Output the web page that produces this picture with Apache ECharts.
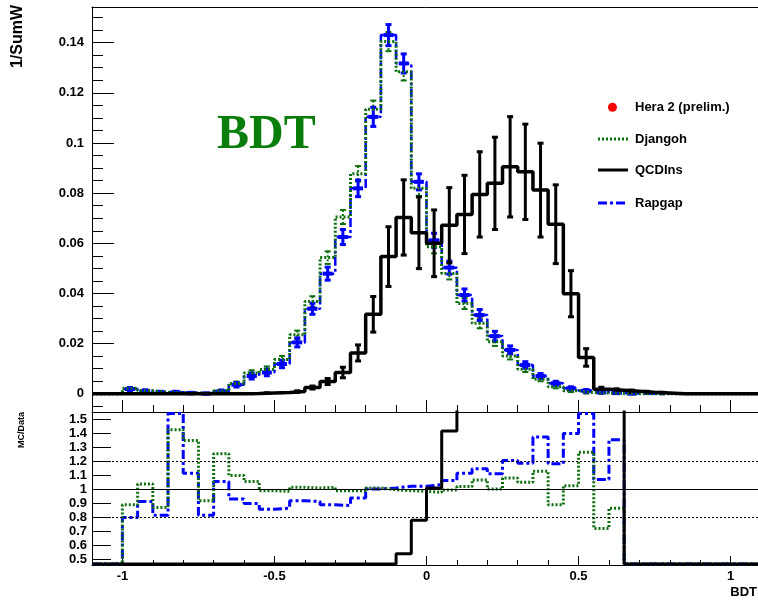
<!DOCTYPE html>
<html><head><meta charset="utf-8">
<script src="https://cdn.jsdelivr.net/npm/echarts@6/dist/echarts.min.js"></script>
<style>html,body{margin:0;padding:0;background:#fff;overflow:hidden}#c{width:758px;height:601px}</style>
</head><body><div id="c"></div>
<script>
// ---------------- data ----------------
const binEdges = [-1.10,-1.05,-1.00,-0.95,-0.90,-0.85,-0.80,-0.75,-0.70,-0.65,-0.60,-0.55,-0.50,-0.45,-0.40,-0.35,-0.30,-0.25,-0.20,-0.15,-0.10,-0.05,0.00,0.05,0.10,0.15,0.20,0.25,0.30,0.35,0.40,0.45,0.50,0.55,0.60,0.65,0.70,0.75,0.80,0.85,0.90,0.95,1.00,1.05,1.10];

const djangoh = [0,0,0.0022,0.0012,0.0006,0.0004,0.0003,0.0002,0.0012,0.0041,0.0083,0.0097,0.0137,0.0235,0.0368,0.0543,0.0705,0.0877,0.1134,0.1404,0.1284,0.0819,0.0586,0.0480,0.0360,0.0281,0.0208,0.0151,0.0098,0.0058,0.0028,0.0012,0.0005,0.0003,0.0001,0,0,0,0,0,0,0,0,0];
const djangohErr = [0,0,0.0005,0.0004,0.0003,0.0003,0.0002,0.0002,0.0004,0.0008,0.0011,0.0012,0.0014,0.0017,0.0021,0.0025,0.0028,0.0031,0.0035,0.0038,0.0035,0.0030,0.0026,0.0024,0.0022,0.0020,0.0017,0.0014,0.0011,0.0008,0.0006,0.0005,0.0004,0.0002,0.0001,0,0,0,0,0,0,0,0,0];

const rapgap = [0,0,0.0019,0.0011,0.0006,0.0006,0.0003,0.0001,0.0010,0.0036,0.0071,0.0085,0.0119,0.0205,0.0339,0.0479,0.0625,0.0819,0.1104,0.1430,0.1317,0.0845,0.0612,0.0503,0.0394,0.0314,0.0230,0.0175,0.0115,0.0071,0.0042,0.0022,0.0012,0.0006,0.0003,0.0001,0,0,0,0,0,0,0,0];
const rapgapErr = [0,0,0.0006,0.0005,0.0004,0.0004,0.0003,0.0002,0.0005,0.0009,0.0012,0.0013,0.0015,0.0018,0.0022,0.0026,0.0030,0.0033,0.0038,0.0042,0.0038,0.0032,0.0028,0.0026,0.0024,0.0022,0.0019,0.0016,0.0013,0.0010,0.0008,0.0006,0.0005,0.0003,0.0002,0.0001,0,0,0,0,0,0,0,0];

const qcdins = [0,0,0,0,0,0,0,0,0,0,0.0001,0.0003,0.0005,0.0009,0.0025,0.0049,0.0085,0.0163,0.0317,0.0547,0.0703,0.0642,0.0600,0.0672,0.0715,0.0795,0.0839,0.0905,0.0885,0.0812,0.0676,0.0399,0.0145,0.0018,0.0014,0.0010,0.0006,0.0003,0,0,0,0,0,0];
const qcdinsErr = [0,0,0,0,0,0,0,0,0,0,0,0,0,0.0003,0.0006,0.0012,0.0021,0.0032,0.0071,0.0119,0.0150,0.0143,0.0133,0.0150,0.0156,0.0170,0.0184,0.0200,0.0190,0.0187,0.0157,0.0092,0.0035,0.0008,0.0006,0.0005,0.0004,0.0003,0,0,0,0,0,0];

// MC / Data ratios
const djangohRatio = [0,0,0.887,1.036,0.868,1.424,1.347,0.916,1.252,1.096,1.053,0.988,0.983,1.012,1.007,1.012,0.988,0.988,1.007,0.993,0.988,0.983,0.976,0.993,1.017,1.065,1.000,1.079,1.048,1.127,0.887,1.024,1.263,0.717,0.863,0,0,0,0,0,0,0,0,0];
const rapgapRatio = [0,0,0.796,0.911,0.813,1.540,1.112,0.813,1.053,0.928,0.896,0.856,0.863,0.916,0.911,0.887,0.882,0.935,1.000,1.007,1.020,1.020,1.031,1.060,1.112,1.144,1.108,1.204,1.184,1.371,1.180,1.396,1.540,1.067,1.352,0,0,0,0,0,0,0,0,0];
const qcdinsRatio = [0,0,0,0,0,0,0,0,0,0,0.01,0.03,0.04,0.04,0.07,0.09,0.12,0.18,0.28,0.39,0.537,0.777,1.007,1.414,2.0,2.8,4.0,6.0,9.0,14,24,30,29,6,14,0,0,0,0,0,0,0,0,0];

const ratioRefLines = [0.8, 1.0, 1.2];

const topYTicks = [0,0.02,0.04,0.06,0.08,0.1,0.12,0.14];
const topYMinor = [-0.005,0.005,0.01,0.015,0.025,0.03,0.035,0.045,0.05,0.055,0.065,0.07,0.075,0.085,0.09,0.095,0.105,0.11,0.115,0.125,0.13,0.135,0.145,0.15];
const ratioYTicks = [0.5,0.6,0.7,0.8,0.9,1.0,1.1,1.2,1.3,1.4,1.5];
const xMajorTicks = [-1,-0.5,0,0.5,1];
const xMinorTicks = [-1,-0.9,-0.8,-0.7,-0.6,-0.5,-0.4,-0.3,-0.2,-0.1,0,0.1,0.2,0.3,0.4,0.5,0.6,0.7,0.8,0.9,1];

// ---------------- styles ----------------
const GREEN = '#0d6e0d', BLUE = '#0000ff', BLACK = '#000000';
const FONT = '"Liberation Sans", Arial, sans-serif';
const X_MIN = -1.1, X_MAX = 1.1;
const TOP_MIN = -0.00725, TOP_MAX = 0.1542;
const R_MIN = 0.457, R_MAX = 1.55;

function stepData(vals) {
  const d = vals.map((v, i) => [binEdges[i], v]);
  d.push([binEdges[vals.length], vals[vals.length - 1]]);
  return d;
}
function ratioStep(vals) {
  const lo = R_MIN + 0.007;
  return stepData(vals.map(v => Math.max(v, lo)));
}
function errData(vals, errs) {
  const out = [];
  vals.forEach((v, i) => { if (v > 0) out.push([(binEdges[i] + binEdges[i + 1]) / 2, v, errs[i]]); });
  return out;
}
function errRender(color, lw, capHalf, dash, barHalf) {
  return function (params, api) {
    const x = api.value(0), y = api.value(1), e = api.value(2);
    const c = api.coord([x, y]);
    const t = api.coord([x, y + e]);
    const b = api.coord([x, y - e]);
    const ch = [
      {type: 'line', shape: {x1: c[0], y1: t[1], x2: c[0], y2: b[1]}, style: {stroke: color, lineWidth: lw, lineDash: dash}},
      {type: 'line', shape: {x1: c[0] - capHalf, y1: t[1], x2: c[0] + capHalf, y2: t[1]}, style: {stroke: color, lineWidth: lw}},
      {type: 'line', shape: {x1: c[0] - capHalf, y1: b[1], x2: c[0] + capHalf, y2: b[1]}, style: {stroke: color, lineWidth: lw}}
    ];
    if (barHalf) ch.push({type: 'line', shape: {x1: c[0] - barHalf, y1: c[1], x2: c[0] + barHalf, y2: c[1]}, style: {stroke: color, lineWidth: 4}});
    return {type: 'group', children: ch};
  };
}

const axisLbl = {color: '#000', fontFamily: FONT, fontWeight: 'bold', fontSize: 13};

const chart = echarts.init(document.getElementById('c'), null, {renderer: 'canvas'});
chart.setOption({
  animation: false,
  backgroundColor: '#fff',
  textStyle: {fontFamily: FONT},
  grid: [
    {left: 92, top: 7, width: 669, height: 405, outerBoundsMode: 'none', containLabel: false},
    {left: 92, top: 412, width: 669, height: 153, outerBoundsMode: 'none', containLabel: false}
  ],
  xAxis: [
    {gridIndex: 0, type: 'value', min: X_MIN, max: X_MAX, position: 'bottom',
     axisLine: {show: true, onZero: false, lineStyle: {color: '#000', width: 1}},
     axisTick: {show: true, inside: true, length: 7, customValues: xMinorTicks, lineStyle: {color: '#000'}},
     axisLabel: {show: false}, splitLine: {show: false}},
    {gridIndex: 0, type: 'value', min: X_MIN, max: X_MAX, position: 'bottom',
     axisLine: {show: false, onZero: false},
     axisTick: {show: true, inside: true, length: 12, customValues: xMajorTicks, lineStyle: {color: '#000'}},
     axisLabel: {show: false}, splitLine: {show: false}},
    {gridIndex: 0, type: 'value', min: X_MIN, max: X_MAX, position: 'top',
     axisLine: {show: true, onZero: false, lineStyle: {color: '#000', width: 1}},
     axisTick: {show: false}, axisLabel: {show: false}, splitLine: {show: false}},
    {gridIndex: 1, type: 'value', min: X_MIN, max: X_MAX, position: 'bottom',
     axisLine: {show: true, onZero: false, lineStyle: {color: '#000', width: 1}},
     axisTick: {show: true, inside: true, length: 5, customValues: xMinorTicks, lineStyle: {color: '#000'}},
     axisLabel: {show: false}, splitLine: {show: false}},
    {gridIndex: 1, type: 'value', min: X_MIN, max: X_MAX, position: 'bottom',
     axisLine: {show: false, onZero: false},
     axisTick: {show: true, inside: true, length: 9, customValues: xMajorTicks, lineStyle: {color: '#000'}},
     axisLabel: Object.assign({show: true, margin: 5, customValues: xMajorTicks, formatter: v => String(+(+v).toFixed(2))}, axisLbl),
     splitLine: {show: false}}
  ],
  yAxis: [
    {gridIndex: 0, type: 'value', min: TOP_MIN, max: TOP_MAX, position: 'left',
     axisLine: {show: true, onZero: false, lineStyle: {color: '#000', width: 1}},
     axisTick: {show: true, inside: true, length: 22, customValues: topYTicks, lineStyle: {color: '#000'}},
     axisLabel: Object.assign({show: true, margin: 8, customValues: topYTicks, formatter: v => String(+(+v).toFixed(3))}, axisLbl),
     splitLine: {show: false}},
    {gridIndex: 0, type: 'value', min: TOP_MIN, max: TOP_MAX, position: 'left', offset: 0,
     axisLine: {show: false, onZero: false},
     axisTick: {show: true, inside: true, length: 11, customValues: topYMinor, lineStyle: {color: '#000'}},
     axisLabel: {show: false}, splitLine: {show: false}},
    {gridIndex: 1, type: 'value', min: R_MIN, max: R_MAX, position: 'left',
     axisLine: {show: true, onZero: false, lineStyle: {color: '#000', width: 1}},
     axisTick: {show: true, inside: true, length: 19, customValues: ratioYTicks, lineStyle: {color: '#000'}},
     axisLabel: Object.assign({show: true, margin: 5, customValues: ratioYTicks, formatter: v => String(+(+v).toFixed(2))}, axisLbl),
     splitLine: {show: false}}
  ],
  series: [
    // ---- top panel ----
    {name: 'Rapgap', type: 'line', xAxisIndex: 0, yAxisIndex: 0, step: 'end', showSymbol: false, symbol: 'none',
     data: stepData(rapgap), lineStyle: {color: BLUE, width: 2.5, type: [9, 3, 3, 3]}, clip: true},
    {name: 'Djangoh', type: 'line', xAxisIndex: 0, yAxisIndex: 0, step: 'end', showSymbol: false, symbol: 'none',
     data: stepData(djangoh), lineStyle: {color: GREEN, width: 3, type: [2, 2]}, clip: true},
    {type: 'custom', xAxisIndex: 0, yAxisIndex: 0, data: errData(djangoh, djangohErr), encode: {x: 0, y: 1},
     renderItem: errRender(GREEN, 2, 3, [2, 2], 0)},
    {type: 'custom', xAxisIndex: 0, yAxisIndex: 0, data: errData(rapgap, rapgapErr), encode: {x: 0, y: 1},
     renderItem: errRender(BLUE, 3, 3, null, 5)},
    {name: 'QCDIns', type: 'line', xAxisIndex: 0, yAxisIndex: 0, step: 'end', showSymbol: false, symbol: 'none',
     data: stepData(qcdins), lineStyle: {color: BLACK, width: 3.5}, clip: true},
    {type: 'custom', xAxisIndex: 0, yAxisIndex: 0, data: errData(qcdins, qcdinsErr), encode: {x: 0, y: 1},
     renderItem: errRender(BLACK, 3, 3, null, 0)},
    // ---- ratio panel ----
    {type: 'line', xAxisIndex: 3, yAxisIndex: 2, data: [], showSymbol: false,
     markLine: {silent: true, symbol: 'none', label: {show: false},
       data: ratioRefLines.map(v => ({yAxis: v, lineStyle: {color: '#000', width: 1, type: v === 1.0 ? 'solid' : [2, 2]}}))}},
    {type: 'line', xAxisIndex: 3, yAxisIndex: 2, step: 'end', showSymbol: false, symbol: 'none',
     data: ratioStep(rapgapRatio), lineStyle: {color: BLUE, width: 3, type: [9, 3, 3, 3]}, clip: true},
    {type: 'line', xAxisIndex: 3, yAxisIndex: 2, step: 'end', showSymbol: false, symbol: 'none',
     data: ratioStep(djangohRatio), lineStyle: {color: GREEN, width: 3, type: [2, 2]}, clip: true},
    {type: 'line', xAxisIndex: 3, yAxisIndex: 2, step: 'end', showSymbol: false, symbol: 'none',
     data: ratioStep(qcdinsRatio), lineStyle: {color: BLACK, width: 3}, clip: true}
  ],
  graphic: [
    {type: 'text', x: 18, y: 5, rotation: Math.PI / 2,
     style: {text: '1/SumW', font: 'bold 16px ' + FONT, fill: '#000', textAlign: 'right', textVerticalAlign: 'middle'}},
    {type: 'text', x: 21.5, y: 412, rotation: Math.PI / 2,
     style: {text: 'MC/Data', font: 'bold 9px ' + FONT, fill: '#000', textAlign: 'right', textVerticalAlign: 'middle'}},
    {type: 'text', x: 757, y: 592,
     style: {text: 'BDT', font: 'bold 13px ' + FONT, fill: '#000', textAlign: 'right', textVerticalAlign: 'middle'}},
    {type: 'text', x: 217, y: 136,
     style: {text: 'BDT', font: 'bold 48px "Liberation Serif", "Times New Roman", serif', fill: '#0a7d0a', textAlign: 'left', textVerticalAlign: 'middle'}},
    // legend
    {type: 'circle', shape: {cx: 612.5, cy: 107.3, r: 4.5}, style: {fill: '#ff0000'}},
    {type: 'text', x: 635, y: 107, style: {text: 'Hera 2 (prelim.)', font: 'bold 13px ' + FONT, fill: '#000', textVerticalAlign: 'middle'}},
    {type: 'line', shape: {x1: 598, y1: 139, x2: 628, y2: 139}, style: {stroke: GREEN, lineWidth: 3, lineDash: [2, 2]}},
    {type: 'text', x: 635, y: 139, style: {text: 'Djangoh', font: 'bold 13px ' + FONT, fill: '#000', textVerticalAlign: 'middle'}},
    {type: 'line', shape: {x1: 598, y1: 170, x2: 628, y2: 170}, style: {stroke: BLACK, lineWidth: 3}},
    {type: 'text', x: 635, y: 170, style: {text: 'QCDIns', font: 'bold 13px ' + FONT, fill: '#000', textVerticalAlign: 'middle'}},
    {type: 'line', shape: {x1: 598, y1: 203, x2: 628, y2: 203}, style: {stroke: BLUE, lineWidth: 3, lineDash: [9, 3, 3, 3]}},
    {type: 'text', x: 635, y: 203, style: {text: 'Rapgap', font: 'bold 13px ' + FONT, fill: '#000', textVerticalAlign: 'middle'}}
  ]
});
</script>
</body></html>
